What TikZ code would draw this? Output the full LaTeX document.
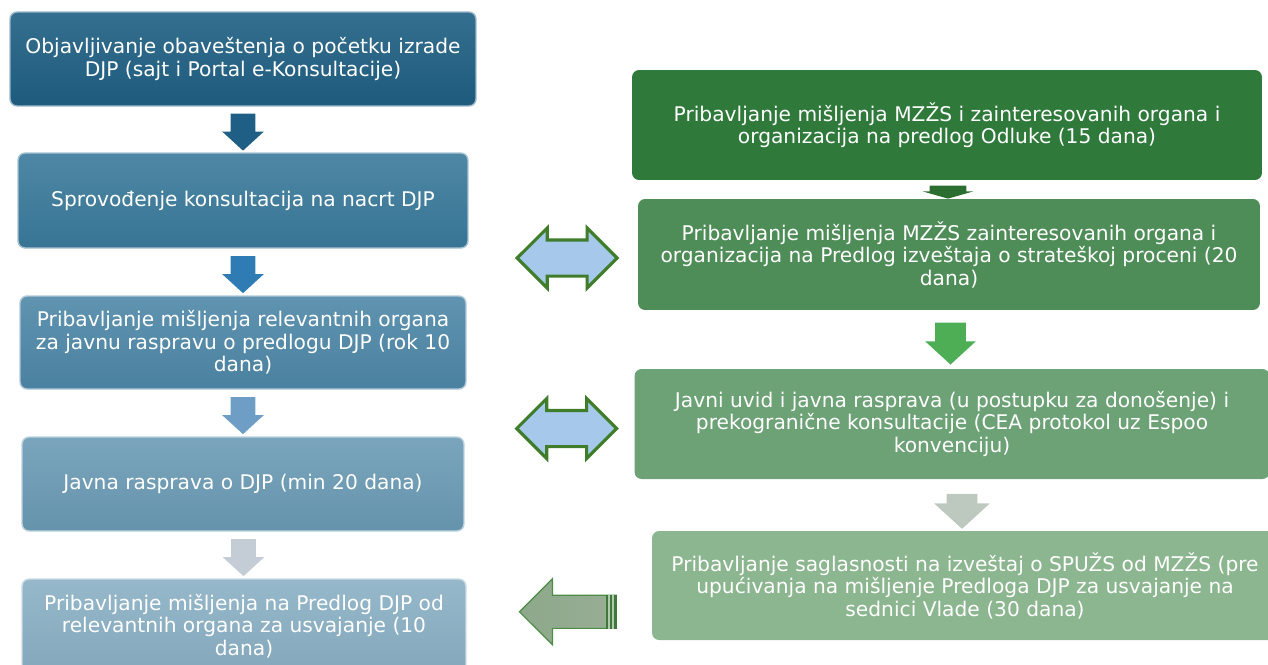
\documentclass[tikz,border=0pt]{standalone}
\usepackage{fontspec}
\setmainfont{DejaVu Sans}
\usetikzlibrary{shapes.arrows,calc}

\definecolor{blueA}{HTML}{1F5F83}
\definecolor{blueB}{HTML}{3A7A9B}
\definecolor{blueC}{HTML}{4E88A8}
\definecolor{blueD}{HTML}{6B9BB5}
\definecolor{blueE}{HTML}{8BB0C5}
\definecolor{greenA}{HTML}{2F7A3B}
\definecolor{greenB}{HTML}{4F8D58}
\definecolor{greenC}{HTML}{6CA276}
\definecolor{greenD}{HTML}{8CB68F}
\definecolor{arrline}{HTML}{3F7D2A}
\definecolor{arrfill}{HTML}{A5C8EB}
\definecolor{arrA}{HTML}{1F5F86}
\definecolor{arrB}{HTML}{2E7CB3}
\definecolor{arrC}{HTML}{6E9EC6}
\definecolor{arrD}{HTML}{C4CDD6}
\definecolor{arrG1}{HTML}{2C6E30}
\definecolor{arrG2}{HTML}{4DAE56}
\definecolor{arrG3}{HTML}{BDC9BF}
\definecolor{backL}{HTML}{8DA88B}
\definecolor{backR}{HTML}{98AE95}
\definecolor{backline}{HTML}{4C8C45}

\tikzset{
  stage/.style={rectangle, rounded corners=4pt, text=white, align=center,
    inner sep=0pt, font=\fontsize{11.5}{12.8}\selectfont},
  lbox/.style={stage, top color=#1!90!white, bottom color=#1!95!black,
    draw=#1!45!white, line width=0.8pt},
  rbox/.style={stage, fill=#1, draw=none},
  downarr/.style={single arrow, shape border rotate=270, draw=none, fill=#1,
    inner xsep=0.24cm, inner ysep=0pt, minimum height=0.74cm,
    single arrow head extend=0.17cm, single arrow tip angle=95},
  linkarr/.style={double arrow, draw=arrline, fill=arrfill, line width=1.8pt,
    inner xsep=0pt, inner ysep=0.33cm, minimum height=2.0cm,
    double arrow head extend=0.24cm, double arrow tip angle=90}
}

\begin{document}
\begin{tikzpicture}[x=0.02cm,y=-0.02cm]
\useasboundingbox (0,0) rectangle (1268,664);
\clip (0,0) rectangle (1268,664);

% left column
\node[lbox=blueA, minimum width=9.32cm, minimum height=1.88cm] (l_1) at (243,59)
  {Objavljivanje obaveštenja o početku izrade\\DJP (sajt i Portal e-Konsultacije)};
\node[lbox=blueB, minimum width=9.0cm, minimum height=1.9cm] (l_2) at (243,200.5)
  {Sprovođenje konsultacija na nacrt DJP};
\node[lbox=blueC, minimum width=8.92cm, minimum height=1.86cm] (l_3) at (243,342.5)
  {Pribavljanje mišljenja relevantnih organa\\za javnu raspravu o predlogu DJP (rok 10\\dana)};
\node[lbox=blueD, minimum width=8.84cm, minimum height=1.88cm] (l_4) at (243,484)
  {Javna rasprava o DJP (min 20 dana)};
\node[lbox=blueE, minimum width=8.88cm, minimum height=1.88cm] (l_5) at (244,626)
  {Pribavljanje mišljenja na Predlog DJP od\\relevantnih organa za usvajanje (10\\dana)};

\node[downarr=arrA] (a_1) at ($(l_1.south)!0.5!(l_2.north)+(0,-3)$) {};
\node[downarr=arrB] (a_2) at ($(l_2.south)!0.5!(l_3.north)+(0,-3)$) {};
\node[downarr=arrC] (a_3) at ($(l_3.south)!0.5!(l_4.north)+(0,-3)$) {};
\node[downarr=arrD] (a_4) at ($(l_4.south)!0.5!(l_5.north)+(0,-3)$) {};

% right column
\node[rbox=greenA, minimum width=12.6cm, minimum height=2.2cm] (r_1) at (947,125)
  {Pribavljanje mišljenja MZŽS i zainteresovanih organa i\\organizacija na predlog Odluke (15 dana)};
\node[rbox=greenB, minimum width=12.44cm, minimum height=2.22cm] (r_2) at (949,254.5)
  {Pribavljanje mišljenja MZŽS zainteresovanih organa i\\organizacija na Predlog izveštaja o strateškoj proceni (20\\dana)};
\node[rbox=greenC, minimum width=12.7cm, minimum height=2.2cm] (r_3) at (952,424)
  {Javni uvid i javna rasprava (u postupku za donošenje) i\\prekogranične konsultacije (CEA protokol uz Espoo\\konvenciju)};
\node[rbox=greenD, minimum width=12.52cm, minimum height=2.18cm] (r_4) at (965,585.5)
  {Pribavljanje saglasnosti na izveštaj o SPUŽS od MZŽS (pre\\upućivanja na mišljenje Predloga DJP za usvajanje na\\sednici Vlade (30 dana)};

\node[downarr=arrG1, inner xsep=0.36cm, minimum height=0.26cm,
  single arrow head extend=0.14cm, single arrow tip angle=148]
  (g_1) at ($(r_1.south)!0.5!(r_2.north)$) {};
\node[downarr=arrG2, inner xsep=0.3cm, minimum height=0.84cm,
  single arrow head extend=0.2cm] (g_2) at ($(r_2.south)!0.5!(r_3.north)+(0,-3)$) {};
\node[downarr=arrG3, inner xsep=0.3cm, minimum height=0.7cm,
  single arrow head extend=0.25cm] (g_3) at ($(r_3.south)+(10,25)$) {};

% links between the columns
\node[linkarr] (d_1) at ($(r_2.west)+(-70.5,3.5)$) {};
\node[linkarr] (d_2) at ($(r_3.west)+(-67.5,4.5)$) {};

\node[single arrow, shape border rotate=180, left color=backL, right color=backR,
  draw=backline, line width=0.7pt, inner xsep=0pt, inner ysep=0.32cm,
  minimum height=1.94cm, single arrow head extend=0.33cm, single arrow tip angle=90]
  (a_5) at ($(l_5.east)!0.5!(r_4.west)+(17,6)$) {};
\fill[backline!85!black] ($(a_5.before tail)+(-11,0)$) rectangle (a_5.after tail);
\foreach \d in {4,8}
  \draw[white!55!backline, line width=0.6pt] ($(a_5.before tail)+(-\d,0)$) -- ($(a_5.after tail)+(-\d,0)$);
\end{tikzpicture}
\end{document}
